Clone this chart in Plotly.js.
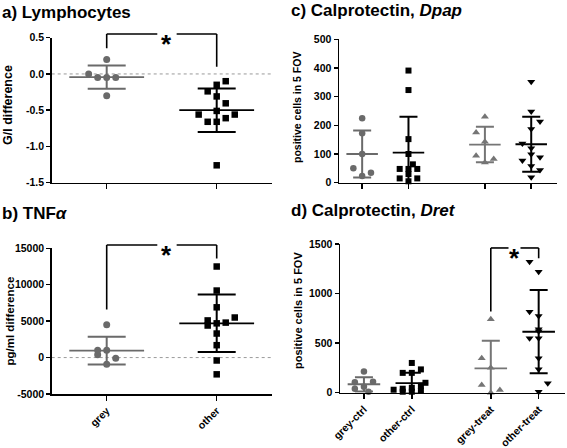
<!DOCTYPE html>
<html><head><meta charset="utf-8">
<script src="https://cdn.plot.ly/plotly-3.0.1.min.js"></script>
<style>html,body{margin:0;padding:0;background:#fff}</style>
</head><body><div id="chart" style="width:567px;height:448px"></div>
<script>
// ---------- Panel a: Lymphocytes (G/l difference) ----------
const lymphCats = ['grey', 'other'];
const lymphGrey = [0.2, 0.0, -0.05, -0.05, -0.05, -0.3];
const lymphOther = [-0.10, -0.15, -0.24, -0.31, -0.405, -0.51, -0.56, -0.56, -0.66, -0.66, -0.61, -1.26];
const lymphMean = [-0.045, -0.5];
const lymphSD = [0.16, 0.30];
const lymphTicks = [-1.5, -1.0, -0.5, 0.0, 0.5];
const lymphTickText = ['-1.5', '-1.0', '-0.5', '0.0', '0.5'];

// ---------- Panel b: TNF alpha (pg/ml difference) ----------
const tnfCats = ['grey', 'other'];
const tnfGrey = [4500, 1000, 1000, 400, -100, -900];
const tnfOther = [12500, 9200, 6900, 5500, 5100, 4400, 4700, 4800, 3300, 1700, -400, -2300];
const tnfMean = [950, 4700];
const tnfSD = [1900, 3950];
const tnfTicks = [-5000, 0, 5000, 10000, 15000];
const tnfTickText = ['-5000', '0', '5000', '10000', '15000'];

// ---------- Panel c: Calprotectin, Dpap ----------
const calCats = ['grey-ctrl', 'other-ctrl', 'grey-treat', 'other-treat'];
const dpapGreyCtrl = [225, 172, 100, 50, 35, 23];
const dpapOtherCtrl = [391, 323, 152, 100, 64, 48, 48, 48, 30, 15, 5, 15];
const dpapGreyTreat = [230, 175, 143, 94, 83, 70];
const dpapOtherTreat = [352, 248, 213, 187, 137, 120, 99, 89, 77, 58, 44, 19];
const dpapMean = [100, 105, 133, 134];
const dpapSD = [82, 125, 62, 96];
const dpapTicks = [0, 100, 200, 300, 400, 500];

// ---------- Panel d: Calprotectin, Dret ----------
const dretGreyCtrl = [215, 105, 110, 60, 40, 10];
const dretOtherCtrl = [300, 235, 200, 200, 100, 70, 50, 40, 30, 20, 10, 10];
const dretGreyTreat = [740, 347, 252, 78, 27, 0];
const dretOtherTreat = [1322, 1221, 817, 774, 640, 620, 549, 549, 347, 236, 95, 10];
const dretMean = [85, 97, 245, 615];
const dretSD = [72, 105, 280, 420];
const dretTicks = [0, 500, 1000, 1500];

// ---------- jitter slots (horizontal spread of overlapping points) ----------
const lymphGreySlot = [0, -2, -1, 0, 1, 0];
const lymphOtherSlot = [1, 0, -1, 0, 1, 0, -2, 2, -1, 0, 1, 0];
const tnfGreySlot = [0, -1, 0, -1, 1, 0];
const tnfOtherSlot = [0, 0, 0, 2, -1, -1, 0, 1, 0, 0, 0, 0];
const dpapGreyCtrlSlot = [0, 0, 0, -1, 1, 0];
const dpapOtherCtrlSlot = [0, 0, 0, 0, 0.5, -1, 0, 1, 0, -1, 0, 1];
const dpapGreyTreatSlot = [0, -1, 0, -1, 1, 0];
const dpapOtherTreatSlot = [0, 0, 1, 0, -1, 0, 0, 1, -1, 0, 1, 0];
const dretGreyCtrlSlot = [0, -1, 1, 0, -1, 0.5];
const dretOtherCtrlSlot = [0, 1, -1, 0, 1.5, 1, 0, -1, -2, 1, 0, -1];
const dretGreyTreatSlot = [0, -1, 0, -1, 1, 0];
const dretOtherTreatSlot = [-1, 0, -1, 0, 0, 0, -1, 0, 0, 0, 1, 0];

const GREY = '#6a6a6a';
const GREY2 = '#757575';
const BLACK = '#000000';
const FONT = 'Liberation Sans, Arial, Helvetica, sans-serif';

const traces = [];
function group(xa, ya, pos, vals, slots, spacing, mean, sd, symbol, color, msize, capPx, meanHalf) {
  traces.push({
    type: 'scatter', mode: 'markers', xaxis: xa, yaxis: ya,
    x: vals.map((v, i) => pos + slots[i] * spacing), y: vals,
    marker: {symbol: symbol, size: msize, color: color, line: {width: 0}},
    cliponaxis: false, hoverinfo: 'skip'
  });
  traces.push({
    type: 'scatter', mode: 'markers', xaxis: xa, yaxis: ya,
    x: [pos], y: [mean],
    marker: {size: 1, color: 'rgba(0,0,0,0)'},
    error_y: {type: 'data', array: [sd], visible: true, width: capPx, thickness: 2, color: color},
    hoverinfo: 'skip'
  });
  traces.push({
    type: 'scatter', mode: 'lines', xaxis: xa, yaxis: ya,
    x: [pos - meanHalf, pos + meanHalf], y: [mean, mean],
    line: {color: color, width: 1.8}, hoverinfo: 'skip'
  });
}

// panel a
group('x', 'y', 1, lymphGrey, lymphGreySlot, 0.082, lymphMean[0], lymphSD[0], 'circle', GREY, 7, 19, 0.34);
group('x', 'y', 2, lymphOther, lymphOtherSlot, 0.082, lymphMean[1], lymphSD[1], 'square', BLACK, 6.5, 19, 0.34);
// panel b
group('x2', 'y2', 1, tnfGrey, tnfGreySlot, 0.082, tnfMean[0], tnfSD[0], 'circle', GREY, 7, 19, 0.34);
group('x2', 'y2', 2, tnfOther, tnfOtherSlot, 0.082, tnfMean[1], tnfSD[1], 'square', BLACK, 6.5, 19, 0.34);
// category positions for c/d (gap between ctrl and treat)
const calPos = [1, 2, 3.65, 4.65];
// panel c
group('x3', 'y3', calPos[0], dpapGreyCtrl, dpapGreyCtrlSlot, 0.19, dpapMean[0], dpapSD[0], 'circle', GREY, 6.5, 9, 0.34);
group('x3', 'y3', calPos[1], dpapOtherCtrl, dpapOtherCtrlSlot, 0.19, dpapMean[1], dpapSD[1], 'square', BLACK, 6, 9, 0.34);
group('x3', 'y3', calPos[2], dpapGreyTreat, dpapGreyTreatSlot, 0.19, dpapMean[2], dpapSD[2], 'triangle-up', GREY2, 7, 9, 0.34);
group('x3', 'y3', calPos[3], dpapOtherTreat, dpapOtherTreatSlot, 0.19, dpapMean[3], dpapSD[3], 'triangle-down', BLACK, 7, 9, 0.34);
// panel d
group('x4', 'y4', calPos[0], dretGreyCtrl, dretGreyCtrlSlot, 0.19, dretMean[0], dretSD[0], 'circle', GREY, 6.5, 9, 0.34);
group('x4', 'y4', calPos[1], dretOtherCtrl, dretOtherCtrlSlot, 0.19, dretMean[1], dretSD[1], 'square', BLACK, 6, 9, 0.34);
group('x4', 'y4', calPos[2], dretGreyTreat, dretGreyTreatSlot, 0.19, dretMean[2], dretSD[2], 'triangle-up', GREY2, 7, 9, 0.34);
group('x4', 'y4', calPos[3], dretOtherTreat, dretOtherTreatSlot, 0.19, dretMean[3], dretSD[3], 'triangle-down', BLACK, 7, 9, 0.34);

const W = 567, H = 448;
const px = v => v / W;
const py = v => 1 - v / H;

const axBase = {
  showline: true, linecolor: '#000', linewidth: 1.5, ticks: 'outside', tickcolor: '#000',
  tickwidth: 1.5, showgrid: false, zeroline: false, fixedrange: true,
  tickfont: {family: FONT, size: 10.5, weight: 'bold', color: '#000'}
};
const ranges = {
  y: [-1.5, 0.5], y2: [-5000, 15000], y3: [0, 500], y4: [0, 1500]
};

const layout = {
  width: W, height: H, margin: {l: 0, r: 0, t: 0, b: 0},
  paper_bgcolor: '#fff', plot_bgcolor: 'rgba(0,0,0,0)', showlegend: false,
  font: {family: FONT, color: '#000'},
  xaxis: Object.assign({}, axBase, {domain: [px(51.7), px(271.7)], range: [0.5, 2.5], tickvals: [1, 2], ticktext: lymphCats, showticklabels: false, ticklen: 5, anchor: 'y'}),
  yaxis: Object.assign({}, axBase, {domain: [py(182.7), py(37.7)], range: ranges.y, tickvals: lymphTicks, ticktext: lymphTickText, ticklen: 4, anchor: 'x'}),
  xaxis2: Object.assign({}, axBase, {domain: [px(51.7), px(271.7)], range: [0.5, 2.5], tickvals: [1, 2], ticktext: tnfCats, tickangle: -45, ticklen: 5, anchor: 'y2'}),
  yaxis2: Object.assign({}, axBase, {domain: [py(394), py(248.3)], range: ranges.y2, tickvals: tnfTicks, ticktext: tnfTickText, ticklen: 4, anchor: 'x2'}),
  xaxis3: Object.assign({}, axBase, {domain: [px(339), px(556.7)], range: [0.5, 5.2], tickvals: calPos, ticktext: calCats, showticklabels: false, ticklen: 5, anchor: 'y3'}),
  yaxis3: Object.assign({}, axBase, {domain: [py(182.7), py(39.3)], range: ranges.y3, tickvals: dpapTicks, ticklen: 4, anchor: 'x3'}),
  xaxis4: Object.assign({}, axBase, {domain: [px(340), px(565)], range: [0.5, 5.2], tickvals: calPos, ticktext: calCats, tickangle: -45, ticklen: 5, anchor: 'y4'}),
  yaxis4: Object.assign({}, axBase, {domain: [py(392.7), py(244)], range: ranges.y4, tickvals: dretTicks, ticklen: 4, anchor: 'x4'}),
  shapes: [],
  annotations: []
};

// dotted zero lines
['', '2'].forEach(k => {
  layout.shapes.push({type: 'line', xref: 'x' + k + ' domain', yref: 'y' + k, x0: 0, x1: 1, y0: 0, y1: 0,
    line: {color: '#9a9a9a', width: 1, dash: 'dot'}, layer: 'below'});
});

// significance brackets (heights in data units, converted through the axis range)
function bracket(xa, ya, xL, xR, yTop, yLeft, yRight, gapL, gapR, starX) {
  const r = ranges[ya];
  const f = v => (v - r[0]) / (r[1] - r[0]);
  const ln = {color: '#000', width: 1.6};
  const yr = ya + ' domain';
  layout.shapes.push({type: 'line', xref: xa, yref: yr, x0: xL, x1: xL, y0: f(yLeft), y1: f(yTop), line: ln});
  layout.shapes.push({type: 'line', xref: xa, yref: yr, x0: xL, x1: gapL, y0: f(yTop), y1: f(yTop), line: ln});
  layout.shapes.push({type: 'line', xref: xa, yref: yr, x0: gapR, x1: xR, y0: f(yTop), y1: f(yTop), line: ln});
  layout.shapes.push({type: 'line', xref: xa, yref: yr, x0: xR, x1: xR, y0: f(yTop), y1: f(yRight), line: ln});
  layout.annotations.push({xref: xa, yref: yr, x: starX, y: f(yTop), text: '*', showarrow: false,
    font: {family: FONT, size: 26, weight: 'bold', color: '#000'}, xanchor: 'center', yanchor: 'middle', yshift: -10});
}
bracket('x', 'y', 1, 2, 0.552, 0.353, 0.10, 1.46, 1.636, 1.545);
bracket('x2', 'y2', 1, 2, 15450, 6600, 13600, 1.46, 1.636, 1.545);
bracket('x4', 'y4', calPos[2], calPos[3], 1460, 820, 1356, 4.02, 4.27, 4.145);

// panel titles
function title(text, x, yMid) {
  layout.annotations.push({xref: 'paper', yref: 'paper', x: px(x), y: py(yMid), xanchor: 'left', yanchor: 'middle',
    text: text, showarrow: false, font: {family: FONT, size: 17, weight: 'bold', color: '#000'}});
}
title('<b>a) Lymphocytes</b>', 0, 12);
title('<b>b) TNF<i>α</i></b>', 0, 213);
title('<b>c) Calprotectin, <i>Dpap</i></b>', 289, 11);
title('<b>d) Calprotectin, <i>Dret</i></b>', 289, 210);

// y-axis titles
function ytitle(text, x, yMid, size) {
  layout.annotations.push({xref: 'paper', yref: 'paper', x: px(x), y: py(yMid), xanchor: 'center', yanchor: 'middle',
    text: '<b>' + text + '</b>', textangle: -90, showarrow: false, font: {family: FONT, size: size, color: '#000'}});
}
ytitle('G/l difference', 8, 105, 12.5);
ytitle('pg/ml difference', 9.5, 321, 11.5);
ytitle('positive cells in 5 FOV', 297, 108, 10.5);
ytitle('positive cells in 5 FOV', 298, 311, 11);

Plotly.newPlot('chart', traces, layout, {staticPlot: true, displayModeBar: false});
</script>
</body></html>
